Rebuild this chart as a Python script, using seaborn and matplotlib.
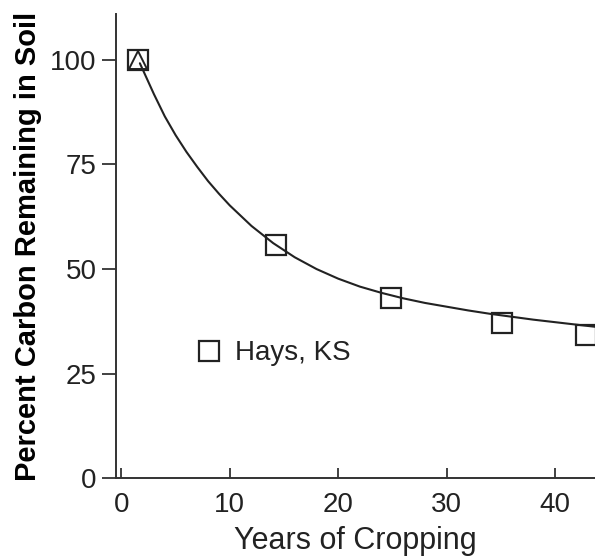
import matplotlib
matplotlib.use("Agg")
import matplotlib.pyplot as plt
import seaborn as sns
import pandas as pd

# observed points (Hays, KS)
years = [1.5, 14.3, 24.9, 35.1, 42.9]
carbon_pct = [100, 55.7, 43.1, 37.1, 34.2]

# first point also marked with a triangle
tri_years = [1.5]
tri_pct = [100]

# fitted curve
curve_years = [1.7, 2, 3, 4, 5, 6, 7, 8, 9, 10, 12, 14, 16, 18, 20, 22, 24, 26, 28, 30, 32, 34, 36, 38, 40, 42, 43.7]
curve_pct = [99.2, 97.5, 91.8, 86.5, 82.0, 78.0, 74.4, 71.0, 68.0, 65.2, 60.3, 56.2, 52.8, 50.0, 47.7, 45.8, 44.3, 43.0, 41.9, 41.0, 40.1, 39.3, 38.6, 37.9, 37.3, 36.7, 36.2]

sns.set_style("white")
plt.rcParams['font.family'] = ['Liberation Sans', 'DejaVu Sans']

ink = '#222222'

fig = plt.figure(figsize=(5.95, 5.56), dpi=100)
ax = fig.add_axes([0.195, 0.14, 0.805, 0.835])

curve = pd.DataFrame({'year': curve_years, 'pct': curve_pct})
pts = pd.DataFrame({'year': years, 'pct': carbon_pct})
tri = pd.DataFrame({'year': tri_years, 'pct': tri_pct})

sns.lineplot(data=curve, x='year', y='pct', ax=ax, color=ink, linewidth=1.5)
ax.plot(pts['year'], pts['pct'], linestyle='none', marker='s', markersize=14.5,
        markerfacecolor='none', markeredgecolor=ink, markeredgewidth=1.6,
        label='Hays, KS', clip_on=False, zorder=5)
ax.plot(tri['year'], tri['pct'], linestyle='none', marker='^', markersize=13,
        markerfacecolor='none', markeredgecolor=ink, markeredgewidth=1.4,
        clip_on=False, zorder=6)

ax.set_xlim(-0.5, 43.7)
ax.set_ylim(0, 111)
ax.set_xticks([0, 10, 20, 30, 40])
ax.set_yticks([0, 25, 50, 75, 100])

for s in ['top', 'right']:
    ax.spines[s].set_visible(False)
for s in ['left', 'bottom']:
    ax.spines[s].set_color('#333333')
    ax.spines[s].set_linewidth(1.4)

ax.tick_params(axis='y', left=True, direction='out', length=10, width=1.3, color='#333333',
               labelsize=20, labelcolor=ink, pad=4)
ax.tick_params(axis='x', bottom=True, direction='in', length=7, width=1.3, color='#333333',
               labelsize=20, labelcolor=ink, pad=10)

ax.set_xlabel('Years of Cropping', fontsize=22, color=ink, labelpad=6)
ax.set_ylabel('Percent Carbon Remaining in Soil', fontsize=21, fontweight='bold',
              color='black', labelpad=6)

ax.legend(loc='center left', bbox_to_anchor=(0.165, 0.269), frameon=False,
          fontsize=20, handlelength=1.0, handletextpad=0.45, borderpad=0,
          borderaxespad=0, labelcolor=ink)

fig.savefig('out.png', dpi=100)
